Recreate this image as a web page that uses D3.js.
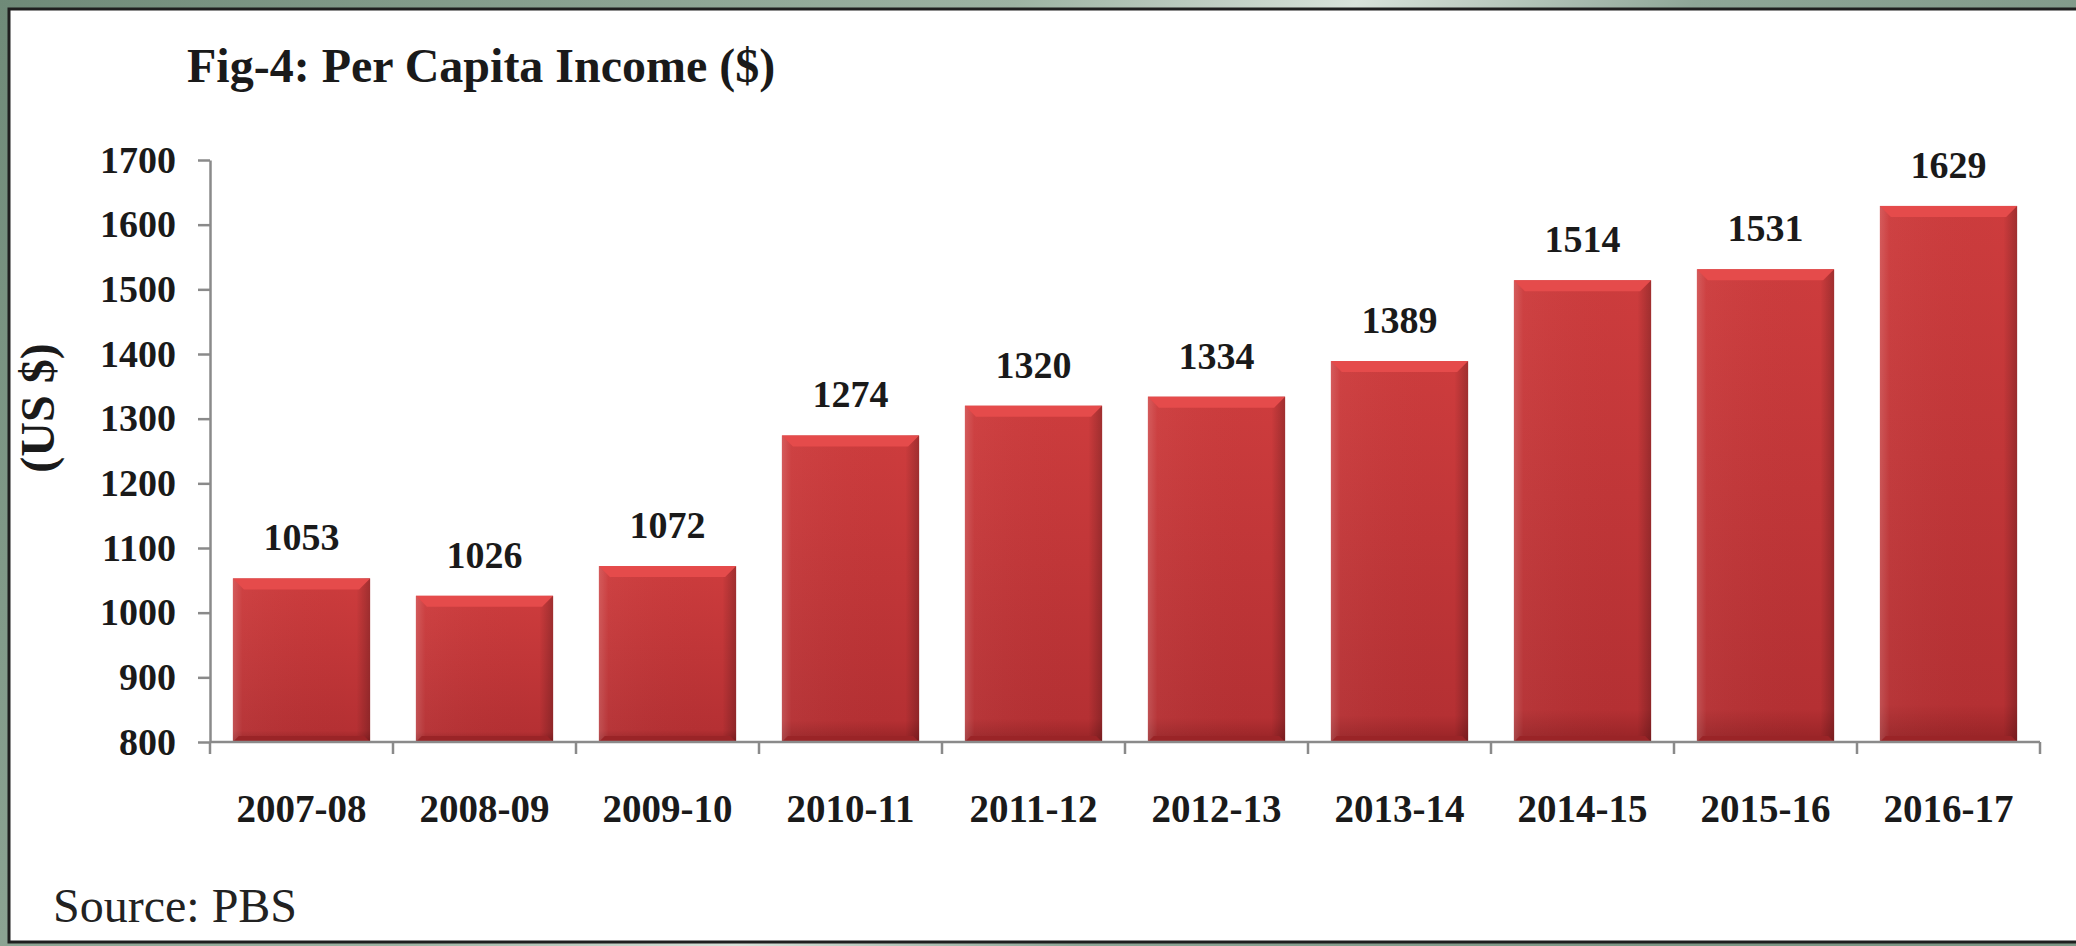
<!DOCTYPE html>
<html>
<head>
<meta charset="utf-8">
<script src="https://cdn.jsdelivr.net/npm/d3@7"></script>
<style>
    body { margin: 0; overflow: hidden; }
    text { font-family: "Liberation Serif", "Times New Roman", serif; }
</style>
</head>
<body>
<div id="chart"></div>
<script>
// data
const years = ["2007-08", "2008-09", "2009-10", "2010-11", "2011-12", "2012-13", "2013-14", "2014-15", "2015-16", "2016-17"];
const income = [1053, 1026, 1072, 1274, 1320, 1334, 1389, 1514, 1531, 1629];
const yTicks = [800, 900, 1000, 1100, 1200, 1300, 1400, 1500, 1600, 1700];

(function () {
    //iife so nothing leaks out

    const width = 2076, height = 946;
    const left = 210, right = 2040, top = 160, bottom = 742;

    const svg = d3.select("#chart").append("svg")
        .attr("width", width)
        .attr("height", height);

    const defs = svg.append("defs");

    //greenish backdrop behind the white panel
    const bg = defs.append("linearGradient").attr("id", "bg")
        .attr("x1", 0).attr("y1", 0).attr("x2", 1).attr("y2", 0.3);
    bg.append("stop").attr("offset", "0%").attr("stop-color", "#6f8a78");
    bg.append("stop").attr("offset", "45%").attr("stop-color", "#9db3a3");
    bg.append("stop").attr("offset", "60%").attr("stop-color", "#d8e2da");
    bg.append("stop").attr("offset", "75%").attr("stop-color", "#8ea697");
    bg.append("stop").attr("offset", "100%").attr("stop-color", "#7d9685");

    //bar body, slightly darker towards the bottom
    const barGrad = defs.append("linearGradient").attr("id", "barGrad")
        .attr("x1", 0).attr("y1", 0).attr("x2", 0).attr("y2", 1);
    barGrad.append("stop").attr("offset", "0%").attr("stop-color", "#cd3c3d");
    barGrad.append("stop").attr("offset", "93%").attr("stop-color", "#b53033");
    barGrad.append("stop").attr("offset", "100%").attr("stop-color", "#962326");

    //side shading so the bars look a bit rounded
    const sideGrad = defs.append("linearGradient").attr("id", "sideGrad")
        .attr("x1", 0).attr("y1", 0).attr("x2", 1).attr("y2", 0);
    sideGrad.append("stop").attr("offset", "0%").attr("stop-color", "#ffffff").attr("stop-opacity", 0.16);
    sideGrad.append("stop").attr("offset", "7%").attr("stop-color", "#ffffff").attr("stop-opacity", 0.03);
    sideGrad.append("stop").attr("offset", "90%").attr("stop-color", "#000000").attr("stop-opacity", 0.0);
    sideGrad.append("stop").attr("offset", "100%").attr("stop-color", "#000000").attr("stop-opacity", 0.22);

    svg.append("rect")
        .attr("width", width).attr("height", height)
        .attr("fill", "url(#bg)");

    //white panel with dark frame
    svg.append("rect")
        .attr("x", 9).attr("y", 9)
        .attr("width", width + 20).attr("height", 933)
        .attr("fill", "#ffffff")
        .attr("stroke", "#1f1f1f")
        .attr("stroke-width", 3);

    //scales
    const x = d3.scaleBand()
        .domain(years)
        .range([left, right])
        .paddingInner(0.25)
        .paddingOuter(0.125);

    const y = d3.scaleLinear()
        .domain([800, 1700])
        .range([bottom, top]);

    //title
    svg.append("text")
        .attr("x", 187).attr("y", 82)
        .attr("font-size", 48)
        .attr("font-weight", "bold")
        .attr("fill", "#1a1a1a")
        .text("Fig-4: Per Capita Income ($)");

    //y axis
    const yAxis = svg.append("g")
        .attr("transform", "translate(" + left + ",0)")
        .call(d3.axisLeft(y).tickValues(yTicks).tickFormat(d3.format("d"))
            .tickSize(12).tickPadding(22).tickSizeOuter(0));
    yAxis.select(".domain").attr("stroke", "#8a8a8a").attr("stroke-width", 2.5);
    yAxis.selectAll(".tick line").attr("stroke", "#8a8a8a").attr("stroke-width", 2.5);
    yAxis.selectAll(".tick text")
        .attr("font-size", 38)
        .attr("font-weight", "bold")
        .attr("fill", "#1a1a1a")
        .attr("font-family", "Liberation Serif, serif");

    svg.append("text")
        .attr("transform", "translate(54," + 408 + ") rotate(-90)")
        .attr("text-anchor", "middle")
        .attr("font-size", 48)
        .attr("font-weight", "bold")
        .attr("fill", "#1a1a1a")
        .text("(US $)");

    //bars
    const bw = x.bandwidth();
    const bev = 11; // bevel depth
    const bars = svg.append("g");
    bars.selectAll("rect.bar")
        .data(income)
        .join("rect")
        .attr("class", "bar")
        .attr("x", (d, i) => x(years[i]))
        .attr("y", d => y(d))
        .attr("width", bw)
        .attr("height", d => y(800) - y(d))
        .attr("fill", "url(#barGrad)");
    bars.selectAll("rect.side")
        .data(income)
        .join("rect")
        .attr("class", "side")
        .attr("x", (d, i) => x(years[i]))
        .attr("y", d => y(d))
        .attr("width", bw)
        .attr("height", d => y(800) - y(d))
        .attr("fill", "url(#sideGrad)");
    //lighter bevel along the top edge
    bars.selectAll("polygon.bevel")
        .data(income)
        .join("polygon")
        .attr("class", "bevel")
        .attr("points", (d, i) => {
            const x0 = x(years[i]), y0 = y(d);
            return [[x0, y0], [x0 + bw, y0], [x0 + bw - bev, y0 + bev], [x0 + bev, y0 + bev]].join(" ");
        })
        .attr("fill", "#e54b4b");
    //darker bevel along the bottom edge
    bars.selectAll("polygon.foot")
        .data(income)
        .join("polygon")
        .attr("class", "foot")
        .attr("points", (d, i) => {
            const x0 = x(years[i]), y0 = y(800);
            return [[x0, y0], [x0 + bw, y0], [x0 + bw - 6, y0 - 6], [x0 + 6, y0 - 6]].join(" ");
        })
        .attr("fill", "#9a2427");

    //value labels on top of bars
    svg.append("g").selectAll("text")
        .data(income)
        .join("text")
        .attr("x", (d, i) => x(years[i]) + bw / 2)
        .attr("y", d => y(d) - 28)
        .attr("text-anchor", "middle")
        .attr("font-size", 38)
        .attr("font-weight", "bold")
        .attr("fill", "#1a1a1a")
        .text(d => d);

    //x axis, ticks sit between the bands
    const xAxis = svg.append("g")
        .attr("transform", "translate(0," + bottom + ")");
    xAxis.append("line")
        .attr("x1", left).attr("x2", right)
        .attr("stroke", "#8a8a8a").attr("stroke-width", 2.5);
    xAxis.selectAll("line.tk")
        .data(d3.range(years.length + 1))
        .join("line")
        .attr("class", "tk")
        .attr("x1", i => left + i * x.step())
        .attr("x2", i => left + i * x.step())
        .attr("y1", 0).attr("y2", 12)
        .attr("stroke", "#8a8a8a").attr("stroke-width", 2.5);
    xAxis.selectAll("text")
        .data(years)
        .join("text")
        .attr("x", d => x(d) + bw / 2)
        .attr("y", 80)
        .attr("text-anchor", "middle")
        .attr("font-size", 39)
        .attr("font-weight", "bold")
        .attr("fill", "#1a1a1a")
        .text(d => d);

    //source note
    svg.append("text")
        .attr("x", 53).attr("y", 922)
        .attr("font-size", 48)
        .attr("fill", "#222222")
        .text("Source: PBS");
})();
</script>
</body>
</html>
